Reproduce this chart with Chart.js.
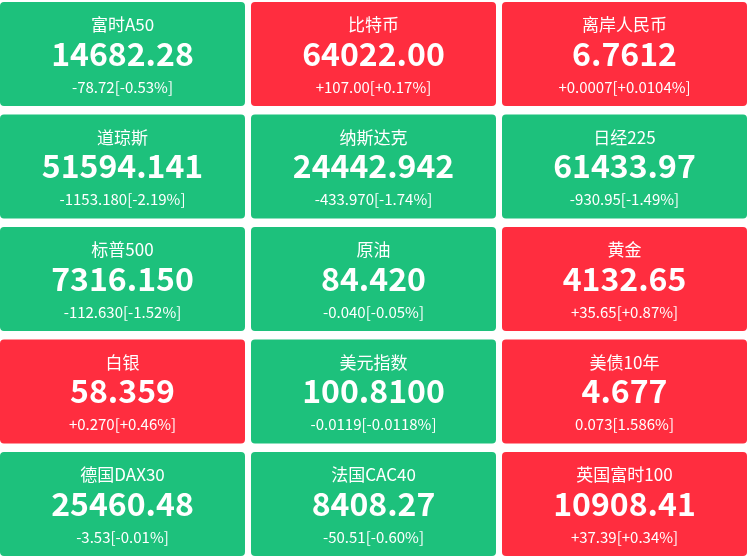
<!DOCTYPE html>
<html>
<head>
<meta charset="utf-8">
<script src="https://cdn.jsdelivr.net/npm/chart.js@4/dist/chart.umd.min.js"></script>
<style>
  html, body { margin: 0; padding: 0; background: #fff; }
  #quoteChart { display: block; }
</style>
</head>
<body>
<canvas id="quoteChart" width="749" height="558"></canvas>
<script>
const names = ['富时A50', '比特币', '离岸人民币', '道琼斯', '纳斯达克', '日经225', '标普500', '原油', '黄金', '白银', '美元指数', '美债10年', '德国DAX30', '法国CAC40', '英国富时100'];
const prices = ['14682.28', '64022.00', '6.7612', '51594.141', '24442.942', '61433.97', '7316.150', '84.420', '4132.65', '58.359', '100.8100', '4.677', '25460.48', '8408.27', '10908.41'];
const changes = ['-78.72', '+107.00', '+0.0007', '-1153.180', '-433.970', '-930.95', '-112.630', '-0.040', '+35.65', '+0.270', '-0.0119', '0.073', '-3.53', '-50.51', '+37.39'];
const changePcts = ['-0.53%', '+0.17%', '+0.0104%', '-2.19%', '-1.74%', '-1.49%', '-1.52%', '-0.05%', '+0.87%', '+0.46%', '-0.0118%', '1.586%', '-0.01%', '-0.60%', '+0.34%'];

const cols = 3;
const upColor = '#ff2d3f';
const downColor = '#1dc17c';
const gap = 0.038;

// each quote is one floating bar: column on x, row on y
const cells = names.map((n, i) => {
    const row = Math.floor(i / cols);
    return { x: i % cols, y: [row + gap, row + 1 - gap] };
});
const colors = changes.map(c => c.startsWith('-') ? downColor : upColor);

const tileText = {
    id: 'tileText',
    afterDatasetsDraw(chart) {
        const ctx = chart.ctx;
        chart.getDatasetMeta(0).data.forEach((bar, i) => {
            const { x, y, base } = bar.getProps(['x', 'y', 'base'], true);
            const top = Math.min(y, base);
            ctx.save();
            ctx.fillStyle = '#fff';
            ctx.textAlign = 'center';
            ctx.textBaseline = 'middle';
            ctx.font = '17px "Noto Sans CJK SC", sans-serif';
            ctx.fillText(names[i], x, top + 23);
            ctx.font = 'bold 32px "Noto Sans CJK SC", sans-serif';
            ctx.fillText(prices[i], x, top + 51.5);
            ctx.font = '15px "Noto Sans CJK SC", sans-serif';
            ctx.fillText(changes[i] + '[' + changePcts[i] + ']', x, top + 85);
            ctx.restore();
        });
    }
};

new Chart(document.querySelector('#quoteChart'), {
    type: 'bar',
    data: {
        datasets: [{
            data: cells,
            backgroundColor: colors,
            barThickness: 245,
            borderRadius: 4,
            borderSkipped: false,
            inflateAmount: 0
        }]
    },
    options: {
        responsive: false,
        animation: false,
        layout: { padding: 0 },
        plugins: {
            legend: { display: false },
            tooltip: { enabled: false }
        },
        scales: {
            x: { type: 'linear', min: -0.488, max: 2.496, offset: false, display: false, ticks: { includeBounds: false } },
            y: { min: 0.02, max: 4.98, reverse: true, display: false }
        }
    },
    plugins: [tileText]
});
</script>
</body>
</html>
